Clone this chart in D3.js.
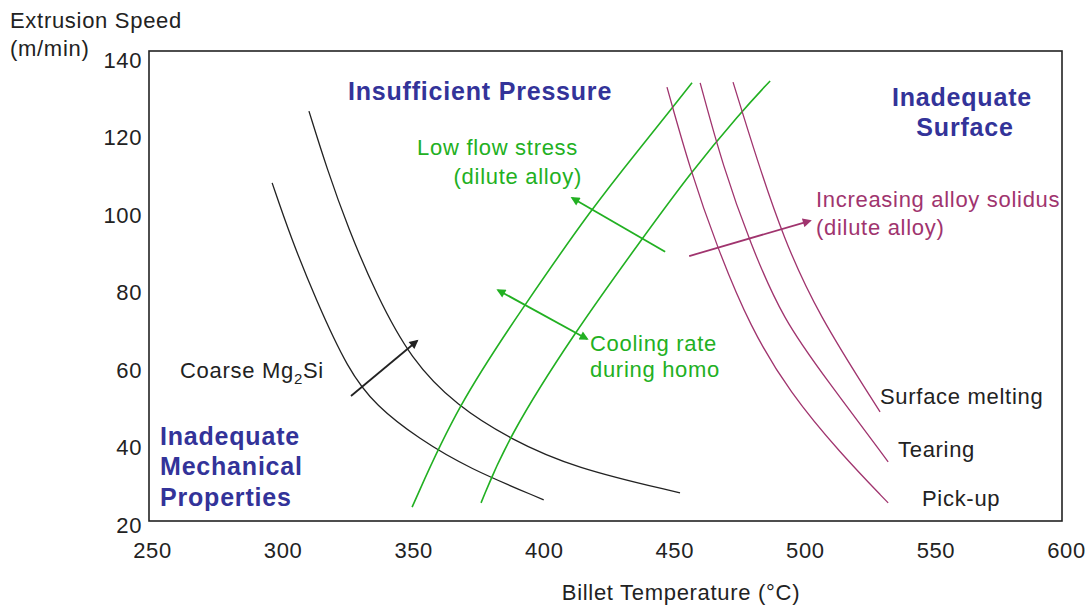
<!DOCTYPE html>
<html>
<head>
<meta charset="utf-8">
<script src="https://cdn.jsdelivr.net/npm/d3@7"></script>
<style>
  body { margin: 0; background: #fff; }
  text { font-family: "Liberation Sans", Arial, sans-serif; }
</style>
</head>
<body>
<svg width="1090" height="605"></svg>
<script>
// tick values
var tempTicks = [250, 300, 350, 400, 450, 500, 550, 600];
var speedTicks = [20, 40, 60, 80, 100, 120, 140];

// curves, [billet temperature, extrusion speed]
var coarseLow = [[296, 108.3], [303.2, 94.1], [312.8, 78.1], [325.1, 60], [335.8, 50.7], [352.3, 42.2], [371, 34.7], [400, 26.5]];
var coarseHigh = [[310.1, 126.8], [317, 111.9], [325.1, 96.6], [335.8, 79.6], [349.2, 62.6], [366.8, 50.7], [387.1, 42.2], [411.6, 34.7], [452.2, 28.3]];
var flowLow = [[349.6, 24.6], [366.8, 50.7], [392.9, 77], [418.5, 101.8], [436.9, 117.3], [449.5, 127.9], [456.8, 134.1]];
var flowHigh = [[376, 25.7], [386, 42.2], [411.6, 69.5], [437.3, 93.5], [456.1, 110.8], [475.2, 126.3], [486.7, 134.6]];
var pickUp = [[447.2, 133], [456.1, 111.6], [466.4, 91.7], [479, 71.1], [494.3, 54.1], [513.5, 38.6], [531.9, 25.7]];
var tearing = [[459.9, 134.1], [468.7, 112.4], [479, 92.8], [491.7, 72.9], [508.5, 57.4], [531.9, 36.3]];
var surfaceMelting = [[472.5, 134.3], [481.7, 114.2], [491.7, 94.3], [504.7, 74.7], [528.8, 49.2]];

// arrows, tail -> head
var coarseArrow = [[326.2, 53.3], [351.5, 67.5]];
var stressArrow = [[446.5, 90.5], [410.9, 104.4]];
var coolingArrow = [[382.5, 80.6], [416.6, 68]];
var solidusArrow = [[455.7, 89.4], [502, 98.5]];

var blue = "#333399";
var green = "#22b022";
var plum = "#a0346e";

var svg = d3.select("svg");

var x = d3.scaleLinear().domain([250, 600]).range([152, 1066]);
var y = d3.scaleLinear().domain([20, 140]).range([525, 60]);

// plot frame
svg.append("rect")
    .attr("x", 149)
    .attr("y", 51)
    .attr("width", 913)
    .attr("height", 470)
    .attr("fill", "none")
    .attr("stroke", "#222")
    .attr("stroke-width", 1.6);

// axes - labels only, no lines
svg.append("g")
    .attr("transform", "translate(146,0)")
    .call(d3.axisLeft(y).tickValues(speedTicks).tickSize(0).tickPadding(4));
svg.append("g")
    .attr("transform", "translate(0,540)")
    .call(d3.axisBottom(x).tickValues(tempTicks).tickSize(0).tickPadding(2));

svg.selectAll(".domain").remove();
svg.selectAll(".tick text")
    .attr("font-family", "Liberation Sans, Arial, sans-serif")
    .attr("font-size", 22)
    .attr("letter-spacing", 0.6)
    .attr("fill", "#222");

// arrow heads
var defs = svg.append("defs");
[["black", "#222"], ["green", green], ["plum", plum]].forEach(function(m) {
    defs.append("marker")
        .attr("id", "head-" + m[0])
        .attr("viewBox", "0 0 10 10")
        .attr("refX", 8)
        .attr("refY", 5)
        .attr("markerWidth", 11)
        .attr("markerHeight", 9)
        .attr("markerUnits", "userSpaceOnUse")
        .attr("orient", "auto-start-reverse")
      .append("path")
        .attr("d", "M0,0 L10,5 L0,10 z")
        .attr("fill", m[1]);
});

var line = d3.line()
    .x(d => x(d[0]))
    .y(d => y(d[1]))
    .curve(d3.curveBasis);

var curves = [
    [coarseLow, "#222", 1.3],
    [coarseHigh, "#222", 1.3],
    [flowLow, green, 1.6],
    [flowHigh, green, 1.6],
    [pickUp, plum, 1.3],
    [tearing, plum, 1.3],
    [surfaceMelting, plum, 1.3]
];

svg.selectAll(".curve")
    .data(curves)
    .enter()
    .append("path")
        .classed("curve", true)
        .attr("d", d => line(d[0]))
        .attr("fill", "none")
        .attr("stroke", d => d[1])
        .attr("stroke-width", d => d[2]);

var straight = d3.line().x(d => x(d[0])).y(d => y(d[1]));

var arrows = [
    [coarseArrow, "#222", "black", false],
    [stressArrow, green, "green", false],
    [coolingArrow, green, "green", true],
    [solidusArrow, plum, "plum", false]
];

svg.selectAll(".arrow")
    .data(arrows)
    .enter()
    .append("path")
        .classed("arrow", true)
        .attr("d", d => straight(d[0]))
        .attr("fill", "none")
        .attr("stroke", d => d[1])
        .attr("stroke-width", 1.8)
        .attr("marker-end", d => "url(#head-" + d[2] + ")")
        .attr("marker-start", d => d[3] ? "url(#head-" + d[2] + ")" : null);

// text labels
function label(txt, tx, ty, opts) {
    opts = opts || {};
    return svg.append("text")
        .attr("x", tx)
        .attr("y", ty)
        .attr("font-size", opts.size || 22)
        .attr("font-weight", opts.bold ? "bold" : "normal")
        .attr("letter-spacing", opts.bold ? 0.8 : 0.7)
        .attr("text-anchor", opts.anchor || "start")
        .attr("fill", opts.color || "#222")
        .text(txt);
}

label("Extrusion Speed", 10, 28);
label("(m/min)", 10, 56);
label("Billet Temperature (\u00b0C)", 681, 600, {anchor: "middle"});

label("Insufficient Pressure", 348, 100, {bold: true, size: 25, color: blue});
label("Inadequate", 962, 106, {bold: true, size: 25, color: blue, anchor: "middle"});
label("Surface", 965, 136, {bold: true, size: 25, color: blue, anchor: "middle"});
label("Inadequate", 160, 445, {bold: true, size: 25, color: blue});
label("Mechanical", 160, 475, {bold: true, size: 25, color: blue});
label("Properties", 160, 506, {bold: true, size: 25, color: blue});

label("Low flow stress", 578, 155, {color: green, anchor: "end"});
label("(dilute alloy)", 582, 184, {color: green, anchor: "end"});
label("Cooling rate", 590, 351, {color: green});
label("during homo", 590, 377, {color: green});

label("Increasing alloy solidus", 816, 207, {color: plum});
label("(dilute alloy)", 816, 235, {color: plum});

var coarse = label("Coarse Mg", 180, 378);
coarse.append("tspan").attr("font-size", 15).attr("dy", 6).text("2");
coarse.append("tspan").attr("dy", -6).text("Si");

label("Surface melting", 880, 404);
label("Tearing", 898, 457);
label("Pick-up", 922, 506);
</script>
</body>
</html>
